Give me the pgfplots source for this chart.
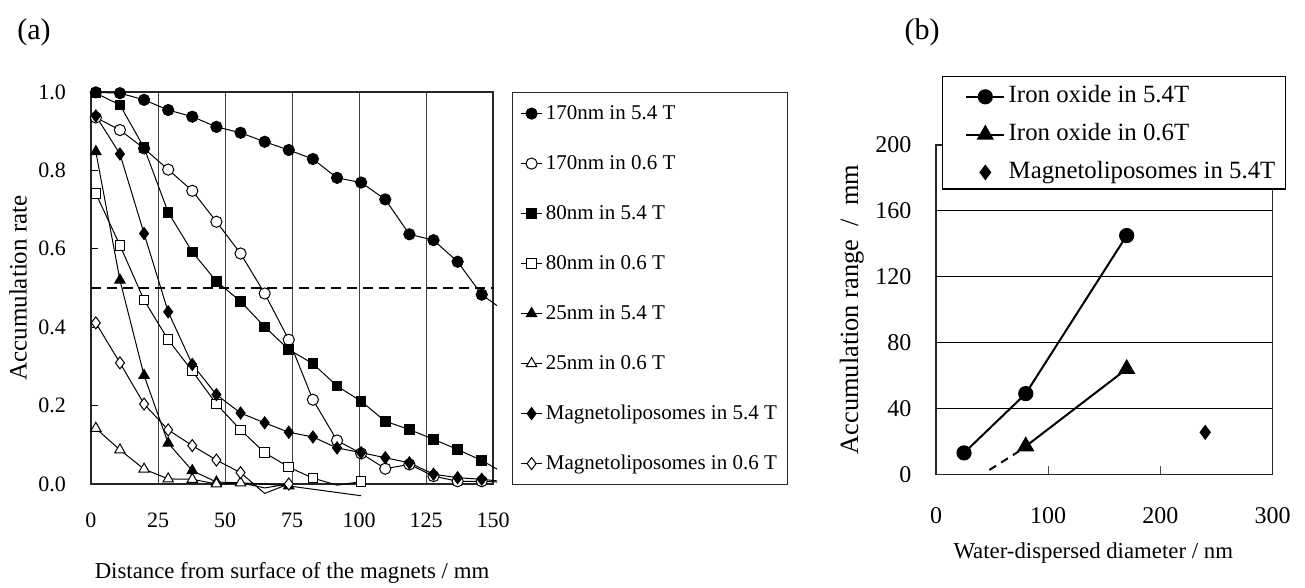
\documentclass[border=0pt]{standalone}
\usepackage{fontspec}
\setmainfont{Liberation Serif}
\usepackage{pgfplots}
\pgfplotsset{compat=1.18}
\begin{document}
\begin{tikzpicture}
\path[use as bounding box] (0pt,0pt) rectangle (652.5pt,294pt);
\node[font=\fontsize{15}{18}\selectfont] at (17pt,278pt) {(a)};
\node[font=\fontsize{15}{18}\selectfont] at (461pt,278pt) {(b)};
% ---------------- panel (a)
\begin{axis}[
  at={(45.5pt,52pt)}, anchor=south west, scale only axis,
  width=201pt, height=196pt,
  xmin=0, xmax=150, ymin=0, ymax=1,
  clip=false,
  axis line style={black!85, line width=0.6pt},
  xtick={0,25,50,75,100,125,150},
  ytick={0,0.2,0.4,0.6,0.8,1.0},
  xmajorgrids, grid style={black!75, line width=0.5pt},
  xtick style={draw=none},
  ytick style={black, line width=0.5pt},
  tick align=inside, major tick length=3.5pt,
  ytick pos=left,
  tick label style={font=\fontsize{11}{13}\selectfont},
  /pgf/number format/assume math mode=true,
  y tick label style={/pgf/number format/fixed, /pgf/number format/fixed zerofill, /pgf/number format/precision=1, xshift=-9pt},
  x tick label style={yshift=-11pt},
  xlabel={Distance from surface of the magnets / mm},
  ylabel={Accumulation rate},
  xlabel style={font=\fontsize{11.4}{13}\selectfont, at={(axis description cs:0.5,0)}, anchor=center, yshift=-44.5pt},
  ylabel style={font=\fontsize{12.5}{14}\selectfont, at={(axis description cs:-0.1816,0.5)}, anchor=center},
  legend cell align=left,
  legend style={at={(axis description cs:1.0465,1)}, anchor=north west,
    draw=black!85, line width=0.6pt,
    font=\fontsize{10.5}{12}\selectfont,
    inner xsep=4pt, inner ysep=5.75pt, row sep=15.5pt,
    nodes={inner xsep=1.5pt, inner ysep=0pt, text height=7.5pt, text depth=2pt}},
  legend image code/.code={\draw[mark repeat=2,mark phase=2,#1,mark indices={2}] plot coordinates {(0pt,0pt) (5.4pt,0pt) (10.8pt,0pt)};},
]
\addplot[black, dash pattern=on 5pt off 3pt, line width=1pt, forget plot] coordinates {(0,0.5) (150,0.5)};
% 170nm in 5.4 T
\addplot[black, line width=0.5pt, mark=*, mark size=2.8pt, mark indices={1,2,3,4,5,6,7,8,9,10,11,12,13,14,15,16,17}] coordinates {
(1.8,0.999) (10.8,0.997) (19.8,0.980) (28.8,0.954) (37.8,0.937) (46.8,0.911) (55.8,0.896) (64.8,0.873) (73.8,0.852) (82.8,0.829) (91.8,0.781) (100.8,0.769) (109.8,0.726) (118.8,0.637) (127.8,0.622) (136.8,0.567) (145.8,0.483) (151.5,0.455)};
\addlegendentry{170nm in 5.4 T}
% 170nm in 0.6 T
\addplot[black, line width=0.5pt, mark=*, mark size=2.8pt, mark options={fill=white}, mark indices={1,2,3,4,5,6,7,8,9,10,11,12,13,14,15,16,17}] coordinates {
(1.8,0.935) (10.8,0.903) (19.8,0.856) (28.8,0.802) (37.8,0.748) (46.8,0.669) (55.8,0.588) (64.8,0.486) (73.8,0.368) (82.8,0.215) (91.8,0.111) (100.8,0.078) (109.8,0.039) (118.8,0.050) (127.8,0.020) (136.8,0.007) (145.8,0.007) (151.5,0.005)};
\addlegendentry{170nm in 0.6 T}
% 80nm in 5.4 T
\addplot[black, line width=0.5pt, mark=square*, mark size=2.4pt, mark indices={1,2,3,4,5,6,7,8,9,10,11,12,13,14,15,16,17}] coordinates {
(1.8,0.997) (10.8,0.967) (19.8,0.858) (28.8,0.693) (37.8,0.592) (46.8,0.517) (55.8,0.466) (64.8,0.401) (73.8,0.343) (82.8,0.307) (91.8,0.250) (100.8,0.211) (109.8,0.160) (118.8,0.139) (127.8,0.114) (136.8,0.088) (145.8,0.060) (151.5,0.038)};
\addlegendentry{80nm in 5.4 T}
% 80nm in 0.6 T
\addplot[black, line width=0.5pt, mark=square*, mark size=2.4pt, mark options={fill=white}, mark indices={1,2,3,4,5,6,7,8,9,10,12}] coordinates {
(1.8,0.741) (10.8,0.609) (19.8,0.469) (28.8,0.368) (37.8,0.288) (46.8,0.204) (55.8,0.138) (64.8,0.080) (73.8,0.043) (82.8,0.015) (91.8,-0.003) (100.8,0.006)};
\addlegendentry{80nm in 0.6 T}
% 25nm in 5.4 T
\addplot[black, line width=0.5pt, mark=triangle*, mark size=3pt, mark indices={1,2,3,4,5,6,9}] coordinates {
(1.8,0.848) (10.8,0.520) (19.8,0.277) (28.8,0.104) (37.8,0.034) (46.8,0.005) (55.8,0.003) (64.8,0.0) (73.8,-0.005) (100.8,-0.030)};
\addlegendentry{25nm in 5.4 T}
% 25nm in 0.6 T
\addplot[black, line width=0.5pt, mark=triangle*, mark size=3pt, mark options={fill=white}, mark indices={1,2,3,4,5,6,7}] coordinates {
(1.8,0.142) (10.8,0.087) (19.8,0.038) (28.8,0.013) (37.8,0.012) (46.8,0.0) (55.8,0.003) (64.8,-0.010) (73.8,0.0)};
\addlegendentry{25nm in 0.6 T}
% Magnetoliposomes in 5.4 T
\addplot[black, line width=0.5pt, mark=diamond*, mark size=3pt, mark indices={1,2,3,4,5,6,7,8,9,10,11,12,13,14,15,16,17}] coordinates {
(1.8,0.939) (10.8,0.842) (19.8,0.639) (28.8,0.439) (37.8,0.305) (46.8,0.228) (55.8,0.181) (64.8,0.156) (73.8,0.132) (82.8,0.120) (91.8,0.092) (100.8,0.080) (109.8,0.067) (118.8,0.054) (127.8,0.025) (136.8,0.016) (145.8,0.012) (151.5,0.008)};
\addlegendentry{Magnetoliposomes in 5.4 T}
% Magnetoliposomes in 0.6 T
\addplot[black, line width=0.5pt, mark=diamond*, mark size=3pt, mark options={fill=white}, mark indices={1,2,3,4,5,6,7,9}] coordinates {
(1.8,0.411) (10.8,0.309) (19.8,0.204) (28.8,0.138) (37.8,0.098) (46.8,0.061) (55.8,0.029) (64.8,-0.024) (73.8,0.0)};
\addlegendentry{Magnetoliposomes in 0.6 T}
\end{axis}
% ---------------- panel (b)
\begin{axis}[
  at={(468pt,56.85pt)}, anchor=south west, scale only axis,
  width=168.25pt, height=164.65pt,
  xmin=0, xmax=300, ymin=0, ymax=200,
  xtick={0,100,200,300}, ytick={0,40,80,120,160,200},
  ymajorgrids, grid style={black, line width=0.5pt},
  axis line style={black!85, line width=0.6pt},
  tick align=inside, major tick length=4pt,
  xtick style={black!70, line width=0.6pt},
  ytick style={draw=none}, xtick pos=bottom,
  tick label style={font=\fontsize{12}{14}\selectfont},
  /pgf/number format/assume math mode=true,
  x tick label style={yshift=-13pt},
  y tick label style={xshift=-8.8pt},
  xlabel={Water-dispersed diameter / nm},
  ylabel={Accumulation range \ / \ mm},
  xlabel style={font=\fontsize{11.4}{13}\selectfont, at={(axis description cs:0.5,0)}, anchor=center, yshift=-39.5pt, xshift=-5.5pt},
  ylabel style={font=\fontsize{13.2}{15}\selectfont, at={(axis description cs:-0.2505,0.5)}, anchor=center},
  legend cell align=left,
  legend style={at={(axis description cs:0.017,1.2104)}, anchor=north west,
    draw=black, line width=0.6pt, fill=white,
    font=\fontsize{12.4}{14}\selectfont,
    inner xsep=3.5pt, inner ysep=3.75pt, row sep=7.9pt,
    nodes={inner xsep=1.7pt, inner ysep=0pt, text height=9.5pt, text depth=1.5pt}},
  legend image code/.code={\path (0pt,0pt); \draw[mark repeat=2,mark phase=2,#1,mark indices={2}] plot coordinates {(8pt,-1pt) (17.5pt,-1pt) (27pt,-1pt)};},
]
\addplot[black, line width=1pt, mark=*, mark size=3.3pt] coordinates {(25,13) (80,49) (170,145)};
\addlegendentry{Iron oxide in 5.4T}
\addplot[black, line width=1pt, mark=triangle*, mark size=4pt] coordinates {(80,17) (170,64)};
\addlegendentry{Iron oxide in 0.6T}
\addplot[black, only marks, mark=diamond*, mark size=3.5pt] coordinates {(240,25.5)};
\addlegendentry{Magnetoliposomes in 5.4T}
\addplot[black, line width=1pt, dash pattern=on 4pt off 3pt, forget plot] coordinates {(47.5,2.6) (74,14)};
\end{axis}
\end{tikzpicture}
\end{document}
